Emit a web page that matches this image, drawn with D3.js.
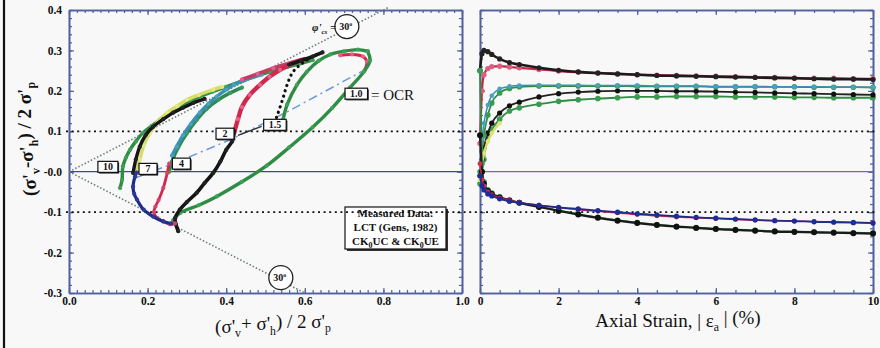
<!DOCTYPE html>
<html><head><meta charset="utf-8">
<script src="https://cdn.jsdelivr.net/npm/d3@7"></script>
<style>
body{margin:0;background:#f7f8f7}
svg{display:block}
.ax path.domain{stroke:#51609e;stroke-width:1.6}
.ax line{stroke:#51609e;stroke-width:1.2}
.ax text{font-family:"Liberation Serif",serif;font-weight:bold;font-size:11.5px;fill:#111}
</style>
</head><body>
<svg id="c" width="880" height="348"></svg>
<script>
// ---------------- DATA ----------------
// Left panel: normalised stress paths [p'/σ'p , q/σ'p]
const ocr10_UC = [[0.13,-0.04],[0.135,-0.02],[0.137,0.013],[0.145,0.035],[0.155,0.054],[0.17,0.075],[0.188,0.096],[0.21,0.113],[0.232,0.129],[0.255,0.145],[0.282,0.161],[0.31,0.175],[0.333,0.186],[0.365,0.198],[0.40,0.21],[0.435,0.222],[0.468,0.234],[0.51,0.247],[0.555,0.259],[0.59,0.268],[0.62,0.276]];
const ocr10_yel = [[0.17,0.0],[0.18,0.03],[0.19,0.065],[0.206,0.096],[0.225,0.122],[0.25,0.146],[0.275,0.162],[0.30,0.178],[0.33,0.19],[0.367,0.203],[0.39,0.21]];
const ocr7_UC = [[0.163,-0.003],[0.17,0.03],[0.18,0.062],[0.195,0.09],[0.214,0.111],[0.24,0.13],[0.265,0.146],[0.29,0.158],[0.316,0.17],[0.345,0.18]];
const ocr4_UCt = [[0.262,0.04],[0.274,0.062],[0.29,0.09],[0.31,0.118],[0.333,0.146],[0.355,0.168],[0.376,0.186],[0.40,0.203],[0.42,0.215],[0.45,0.228],[0.49,0.24]];
const ocr4_UCg = [[0.255,0.0],[0.262,0.025],[0.278,0.06],[0.3,0.095],[0.325,0.128],[0.35,0.155],[0.38,0.178],[0.41,0.195],[0.44,0.208]];
const ocr2_UC = [[0.42,0.095],[0.43,0.13],[0.44,0.16],[0.46,0.19],[0.486,0.215],[0.51,0.235],[0.537,0.252],[0.56,0.264],[0.58,0.272],[0.60,0.278]];
const ocr2_env = [[0.44,0.228],[0.48,0.242],[0.52,0.256],[0.56,0.268],[0.60,0.279]];
const ocr15_UC = [[0.528,0.134],[0.542,0.174],[0.555,0.215],[0.57,0.247],[0.596,0.27],[0.63,0.29],[0.645,0.295]];
const ocr15_top = [[0.56,0.265],[0.59,0.275],[0.62,0.285],[0.645,0.295]];
const ocr15_UCg = [[0.545,0.13],[0.555,0.166],[0.58,0.215],[0.605,0.247],[0.635,0.274],[0.665,0.29],[0.70,0.298],[0.735,0.302],[0.76,0.298]];
const ocr1_UC = [[0.752,0.25],[0.758,0.272],[0.748,0.285],[0.72,0.29],[0.69,0.288]];
const ocr1_UE = [[0.76,0.298],[0.766,0.275],[0.75,0.247],[0.715,0.208],[0.67,0.158],[0.62,0.11],[0.56,0.06],[0.503,0.015],[0.44,-0.025],[0.376,-0.061],[0.33,-0.083],[0.283,-0.102],[0.265,-0.12]];
const ocr2_UE = [[0.42,0.10],[0.415,0.075],[0.40,0.054],[0.385,0.025],[0.367,-0.003],[0.345,-0.028],[0.325,-0.052],[0.30,-0.075],[0.282,-0.094],[0.27,-0.115],[0.272,-0.13],[0.278,-0.147]];
const ocr4_UE = [[0.255,0.02],[0.25,-0.003],[0.24,-0.04],[0.228,-0.07],[0.22,-0.086],[0.216,-0.10],[0.225,-0.115],[0.24,-0.123],[0.257,-0.13],[0.27,-0.128]];
const ocr7_UE = [[0.172,-0.002],[0.168,-0.012],[0.163,-0.037],[0.166,-0.055],[0.173,-0.069],[0.19,-0.094],[0.214,-0.111],[0.24,-0.123],[0.26,-0.128]];
const k0Line = [[0.17,-0.015],[0.27,0.022],[0.41,0.079],[0.555,0.148],[0.745,0.248]];
const ocrLabels = ["10","7","4","2","1.5","1.0"];
const ocrLabelP = [0.099,0.201,0.286,0.397,0.524,0.731];
const ocrLabelQ = [0.012,0.007,0.02,0.094,0.116,0.193];
const envSlope = [0.5,-0.5];          // sin(30°) failure envelopes
// Right panel: axial strain (%) and normalised q
const strain = [0,0.05,0.1,0.2,0.3,0.5,0.75,1,1.5,2,2.5,3,3.5,4,4.5,5,5.5,6,6.5,7,7.5,8,8.5,9,9.5,10];
const qC_ocr1 = [0.25,0.292,0.30,0.297,0.29,0.279,0.27,0.265,0.257,0.251,0.247,0.244,0.242,0.24,0.238,0.237,0.236,0.235,0.234,0.233,0.232,0.231,0.23,0.229,0.229,0.228];
const qC_ocr2 = [0.07,0.2,0.24,0.255,0.26,0.261,0.259,0.257,0.253,0.249,0.246,0.244,0.242,0.24,0.239,0.238,0.237,0.236,0.235,0.234,0.233,0.232,0.231,0.231,0.23,0.23];
const qC_ocr4 = [0.02,0.08,0.12,0.165,0.188,0.205,0.211,0.213,0.214,0.214,0.214,0.213,0.213,0.213,0.212,0.212,0.212,0.211,0.211,0.211,0.21,0.21,0.21,0.209,0.209,0.209];
const qC_ocr4g = [0.0,0.05,0.09,0.14,0.17,0.195,0.206,0.21,0.212,0.212,0.212,0.212,0.212,0.211,0.211,0.211,0.211,0.21,0.21,0.21,0.21,0.21,0.209,0.209,0.209,0.208];
const qC_ocr7 = [-0.01,0.03,0.06,0.095,0.12,0.145,0.163,0.172,0.185,0.193,0.197,0.199,0.2,0.2,0.2,0.199,0.199,0.198,0.197,0.196,0.195,0.194,0.193,0.192,0.191,0.19];
const qC_ocr10 = [-0.03,0.0,0.03,0.09,0.105,0.13,0.15,0.158,0.167,0.174,0.178,0.181,0.183,0.185,0.185,0.186,0.186,0.186,0.185,0.185,0.185,0.184,0.184,0.183,0.183,0.183];
const strainY = [0,0.05,0.1,0.2,0.3,0.5];
const qC_yel = [-0.02,0.02,0.045,0.075,0.095,0.12];
const qE_ocr7 = [-0.01,-0.035,-0.045,-0.055,-0.06,-0.067,-0.073,-0.077,-0.083,-0.088,-0.092,-0.096,-0.1,-0.104,-0.107,-0.11,-0.113,-0.115,-0.117,-0.119,-0.121,-0.122,-0.124,-0.125,-0.126,-0.127];
const qE_ocr4 = [0.02,-0.02,-0.035,-0.05,-0.057,-0.065,-0.071,-0.076,-0.083,-0.089,-0.094,-0.098,-0.102,-0.106,-0.109,-0.112,-0.114,-0.116,-0.118,-0.12,-0.121,-0.122,-0.123,-0.124,-0.125,-0.126];
const qE_ocr2 = [0.09,0.0,-0.03,-0.048,-0.055,-0.064,-0.071,-0.077,-0.087,-0.097,-0.106,-0.114,-0.121,-0.127,-0.132,-0.136,-0.139,-0.142,-0.144,-0.146,-0.148,-0.149,-0.15,-0.151,-0.152,-0.153];
const qE_ocr1 = [0.25,0.02,-0.025,-0.045,-0.053,-0.062,-0.07,-0.076,-0.086,-0.096,-0.105,-0.113,-0.12,-0.126,-0.131,-0.135,-0.138,-0.141,-0.143,-0.145,-0.147,-0.148,-0.149,-0.15,-0.151,-0.152];
// ticks
const yMajor = [-0.3,-0.2,-0.1,0,0.1,0.2,0.3,0.4];
const xMajorL = [0,0.2,0.4,0.6,0.8,1.0];
const xMajorR = [0,2,4,6,8,10];

// ---------------- SCALES ----------------
const svg = d3.select("#c");
svg.append("rect").attr("width",880).attr("height",348).attr("fill","#f7f8f7");
const xL = d3.scaleLinear().domain([0,1]).range([69,462]);
const xR = d3.scaleLinear().domain([0,10]).range([480,873]);
const y = d3.scaleLinear().domain([-0.3,0.4]).range([293,10]);
const yMinor = d3.range(-0.3,0.4001,0.02);

svg.append("line").attr("x1",4).attr("x2",4).attr("y1",0).attr("y2",348).attr("stroke","#111").attr("stroke-width",2.2);

function frame(x, xMaj, xMin, showY, fmtX){
  const [x0,x1]=x.range(), y0=y(-0.3), y1=y(0.4);
  const g=svg.append("g");
  const ax=(gen,tr,vals,size,fmt,pad)=>g.append("g").attr("class","ax").attr("transform",tr)
      .call(gen.tickValues(vals).tickSize(size).tickSizeOuter(0).tickPadding(pad||4).tickFormat(fmt));
  ax(d3.axisBottom(x),`translate(0,${y0})`,xMaj,-5,fmtX,4);
  ax(d3.axisBottom(x),`translate(0,${y0})`,xMin,-3,()=>"");
  ax(d3.axisTop(x),`translate(0,${y1})`,xMaj,-5,()=>"");
  ax(d3.axisTop(x),`translate(0,${y1})`,xMin,-3,()=>"");
  ax(d3.axisLeft(y),`translate(${x0},0)`,yMajor,-5,showY?(d=>Math.abs(d)<1e-9?"-0.0":(d<0?"-":"")+Math.abs(d).toFixed(1)):()=>"",7);
  ax(d3.axisLeft(y),`translate(${x0},0)`,yMinor,-3,()=>"");
  ax(d3.axisRight(y),`translate(${x1},0)`,yMajor,-5,()=>"");
  ax(d3.axisRight(y),`translate(${x1},0)`,yMinor,-3,()=>"");
  return g;
}
frame(xL,xMajorL,d3.range(0,1.0001,0.02),true,d=>d.toFixed(1));
frame(xR,xMajorR,d3.range(0,10.001,0.5),false,d=>String(d));

// reference lines
svg.append("line").attr("x1",xL(0)).attr("x2",xL(1)).attr("y1",y(0)).attr("y2",y(0)).attr("stroke","#3c4a94").attr("stroke-width",1.3);
svg.append("line").attr("x1",xR(0)).attr("x2",xR(10)).attr("y1",y(0)).attr("y2",y(0)).attr("stroke","#7a64b0").attr("stroke-width",1.2);

// failure envelopes
const envG = svg.append("g");
envSlope.forEach((s,i)=>{
  const pEnd = i===0 ? 0.815 : 0.6;
  envG.append("line").attr("x1",xL(0)).attr("y1",y(0)).attr("x2",xL(pEnd)).attr("y2",y(s*pEnd))
    .attr("stroke","#6f7f78").attr("stroke-width",1.6).attr("stroke-dasharray","1.5,2");
});

// K0 line
const lineL = d3.line().x(d=>xL(d[0])).y(d=>y(d[1]));
svg.append("path").attr("d",lineL(k0Line)).attr("fill","none").attr("stroke","#6e9ad6").attr("stroke-width",1.5).attr("stroke-dasharray","9,4,2,4");

// legend box
const lg = svg.append("g");
lg.append("rect").attr("x",347).attr("y",209).attr("width",101).attr("height",42).attr("fill","#333");
lg.append("rect").attr("x",345).attr("y",207).attr("width",101).attr("height",42).attr("fill","#fff").attr("stroke","#111").attr("stroke-width",1.2);
const lgText = (yy,parts)=>{
  const t=lg.append("text").attr("x",395.5).attr("y",yy).attr("text-anchor","middle")
    .style("font-family","Liberation Serif").style("font-weight","bold").style("font-size","11px").attr("fill","#111");
  parts.forEach(p=>{
    const ts=t.append("tspan").text(p[0]);
    if(p[1]==="s") ts.attr("dy","3").style("font-size","8px");
    if(p[1]==="b") ts.attr("dy","-3");
  });
};
lgText(217,[["Measured Data:"]]);
lgText(231,[["LCT  (Gens, 1982)"]]);
lgText(245,[["CK"],["0","s"],["UC & CK","b"],["0","s"],["UE","b"]]);

// dotted ±0.1 lines
[0.1,-0.1].forEach(v=>{
  svg.append("line").attr("x1",66).attr("x2",877).attr("y1",y(v)).attr("y2",y(v))
    .attr("stroke","#111").attr("stroke-width",1.8).attr("stroke-dasharray","2,3.6");
});

// ---------------- LEFT PANEL CURVES ----------------
const curveL = d3.line().x(d=>xL(d[0])).y(d=>y(d[1])).curve(d3.curveCatmullRom);
const gL = svg.append("g");
function pathL(data,color,mk,w,dash){
  gL.append("path").attr("d",curveL(data)).attr("fill","none").attr("stroke",color)
    .attr("stroke-width",w||3.4).attr("stroke-linecap","round").attr("stroke-linejoin","round")
    .attr("stroke-dasharray",dash||null);
  if(mk) gL.selectAll(null).data(data).enter().append("circle").attr("cx",d=>xL(d[0])).attr("cy",d=>y(d[1])).attr("r",2.1).attr("fill",mk);
}
pathL(ocr10_UC,"#2f8c45","#3fa055");
pathL(ocr10_yel,"#d6dd6a","#e4e88a",3.6);
pathL(ocr7_UC,"#151515","#222");
pathL(ocr4_UCg,"#2e8a50","#3a9a5a");
pathL(ocr4_UCt,"#3a90b4","#4aa0c0");
pathL(ocr2_env,"#c83a62","#e0608a",3.8);
pathL(ocr2_UC,"#d0284c","#e86090",4.4);
pathL(ocr15_UCg,"#2f8c45","#3fa055");
pathL(ocr15_UC,"#111",null,3.2,"0.1,5.5");
pathL(ocr15_top,"#151515","#222",3.6);
pathL(ocr1_UC,"#d0284c","#e06080",3);
pathL(ocr1_UE,"#2f8c45","#3fa055");
pathL(ocr2_UE,"#151515","#222",3.6);
pathL(ocr4_UE,"#d0284c","#d84070",2.8);
pathL(ocr7_UE,"#1f2b86","#2a3898",3.2);

// leader from 1.5 box
svg.append("line").attr("x1",xL(0.43)).attr("y1",y(0.09)).attr("x2",xL(0.49)).attr("y2",y(0.112)).attr("stroke","#333").attr("stroke-width",1.3);

// OCR boxes
ocrLabels.forEach((lab,i)=>{
  const cx=xL(ocrLabelP[i]), cy=y(ocrLabelQ[i]);
  const g=svg.append("g");
  const t=g.append("text").attr("x",cx).attr("y",cy+3.5).attr("text-anchor","middle")
    .style("font-family","Liberation Serif").style("font-weight","bold").style("font-size","10px").attr("fill","#111").text(lab);
  const w=Math.max(t.node().getComputedTextLength()+10,18);
  g.insert("rect","text").attr("x",cx-w/2+1.2).attr("y",cy-5.5+1.2).attr("width",w).attr("height",11).attr("fill","#222");
  g.insert("rect","text").attr("x",cx-w/2).attr("y",cy-5.5).attr("width",w).attr("height",11).attr("fill","#fff").attr("stroke","#111").attr("stroke-width",1.2);
});
svg.append("text").attr("x",371).attr("y",100).style("font-family","Liberation Serif").style("font-size","15px").attr("fill","#111").text("= OCR");

// 30° circles
const circ=(p,q,r)=>{
  svg.append("circle").attr("cx",xL(p)).attr("cy",y(q)).attr("r",r).attr("fill","#fff").attr("stroke","#222").attr("stroke-width",1.3);
  const t=svg.append("text").attr("x",xL(p)-1).attr("y",y(q)+3.5).attr("text-anchor","middle")
    .style("font-family","Liberation Serif").style("font-weight","bold").style("font-size","10px").attr("fill","#111");
  t.append("tspan").text("30");
  t.append("tspan").attr("dy","-4").style("font-size","6px").text("o");
};
circ(0.707,0.359,12);
circ(0.539,-0.262,12);
const phi=svg.append("text").attr("x",312).attr("y",31).style("font-family","Liberation Serif").style("font-style","italic").style("font-weight","bold").style("font-size","11px").attr("fill","#111");
phi.append("tspan").text("φ'");
phi.append("tspan").attr("dy","3").style("font-size","7px").text("cs");
phi.append("tspan").attr("dy","-3").text(" =");

// ---------------- RIGHT PANEL CURVES ----------------
const gR = svg.append("g");
function pathR(xs,qs,color,mk,w,r){
  const data=xs.map((s,i)=>[s,qs[i]]);
  gR.append("path").attr("d",d3.line().x(d=>xR(d[0])).y(d=>y(d[1])).curve(d3.curveMonotoneX)(data))
    .attr("fill","none").attr("stroke",color).attr("stroke-width",w||1.8);
  gR.selectAll(null).data(data).enter().append("circle").attr("cx",d=>xR(d[0])).attr("cy",d=>y(d[1])).attr("r",r||2.8).attr("fill",mk);
}
pathR(strain,qC_ocr10,"#2f8c45","#3a9a50");
pathR(strain,qC_ocr7,"#222","#111",1.8,2.6);
pathR(strain,qC_ocr4g,"#2f8c45","#3a9a50");
pathR(strain,qC_ocr4,"#3a90b4","#4aa0c4",1.5,2.3);
pathR(strainY,qC_yel,"#d6dd6a","#dfe47a",2.4,2.3);
pathR(strain,qC_ocr2,"#c8284c","#d86080",2.2,2.7);
pathR(strain,qC_ocr1,"#1b1b1b","#222",2.6,2.6);
pathR(strain,qE_ocr1,"#2f8c45","#3a9a50");
pathR(strain,qE_ocr2,"#1b1b1b","#111",2.2,3);
pathR(strain,qE_ocr4,"#d0284c","#d03050",1.5,2.4);
pathR(strain,qE_ocr7,"#1f2b86","#1f2b96",1.8,2.6);

// ---------------- AXIS TITLES ----------------
function rich(t,parts){
  parts.forEach(p=>{
    const ts=t.append("tspan").text(p[0]);
    if(p[1]==="s") ts.attr("dy","0.35em").style("font-size","0.62em");
    if(p[1]==="b") ts.attr("dy","-0.35em");
  });
}
const yl=svg.append("text").attr("transform","translate(36,139) rotate(-90)").attr("text-anchor","middle")
  .style("font-family","Liberation Serif").style("font-weight","bold").style("font-size","19px").attr("fill","#111");
rich(yl,[["(σ'"],["v","s"],["-σ'","b"],["h","s"],[") / 2 σ'","b"],["p","s"]]);
const xl=svg.append("text").attr("x",273).attr("y",333).attr("text-anchor","middle")
  .style("font-family","Liberation Serif").style("font-size","19px").attr("fill","#111");
rich(xl,[["(σ'"],["v","s"],["+ σ'","b"],["h","s"],[") / 2 σ'","b"],["p","s"]]);
const xr=svg.append("text").attr("x",678).attr("y",327).attr("text-anchor","middle")
  .style("font-family","Liberation Serif").style("font-size","19px").attr("fill","#111");
rich(xr,[["Axial Strain, | ε"],["a","s"],[" | (%)","b"]]);
</script>
</body></html>
